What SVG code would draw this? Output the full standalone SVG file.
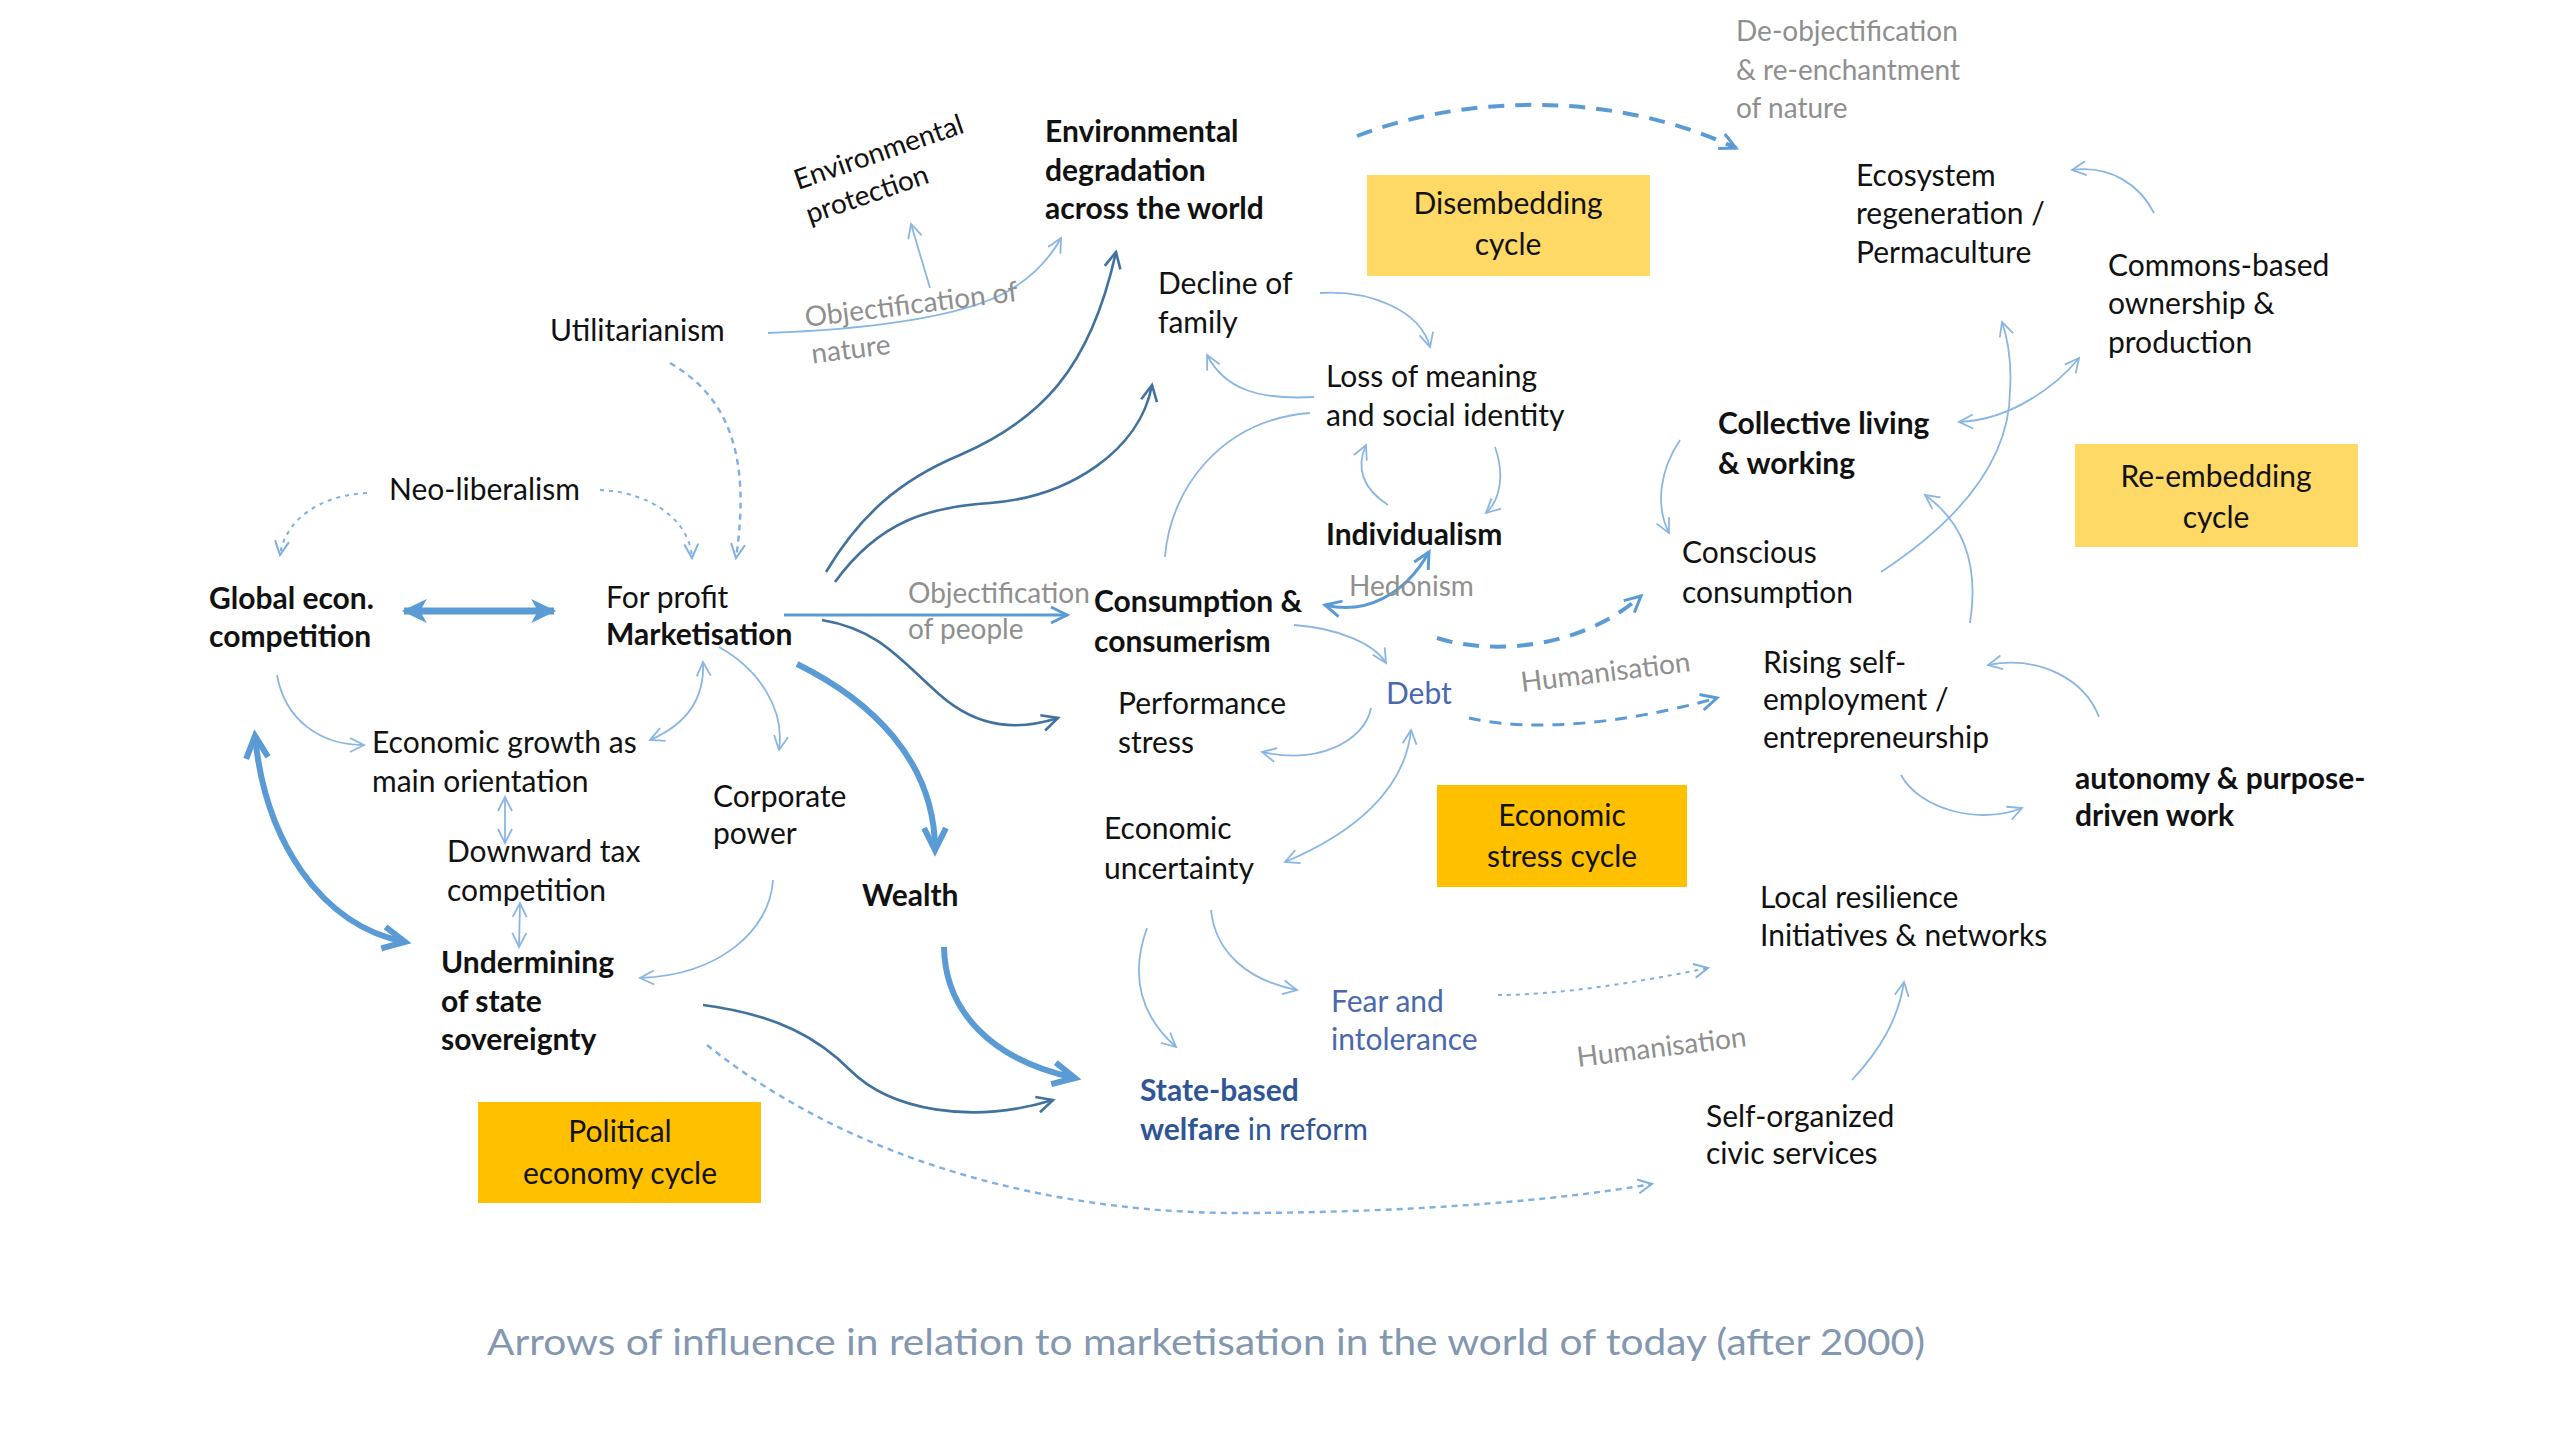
<svg xmlns="http://www.w3.org/2000/svg" width="2560" height="1440" viewBox="0 0 2560 1440">
<style>
text{font-family:Lato,"Open Sans","Liberation Sans",sans-serif;font-size:30px;fill:#111}
.b{font-weight:bold}
.g{fill:#8f8f8f;font-size:28px}
.bl{fill:#4a68ad}
.dk{fill:#2f5597}
.ct{text-anchor:middle}
.ttl{fill:#8497b0;font-size:37px}
.box1{fill:#ffd966}
.box2{fill:#ffc000}
path{fill:none}
.mf{fill:#5b9bd5}
.cl{stroke:#8ab6e3;stroke-width:1.8}
.cm{stroke:#5b9bd5;stroke-width:3}
.cd{stroke:#41729f;stroke-width:2.6}
.ck{stroke:#5b9bd5;stroke-width:6}
.cdash{stroke:#5b9bd5;stroke-width:4;stroke-dasharray:16 11}
.cdash2{stroke:#5b9bd5;stroke-width:3;stroke-dasharray:12 9}
.cdot{stroke:#7fb0e0;stroke-width:2;stroke-dasharray:4 5}
.cdot2{stroke:#7fb0e0;stroke-width:2.4;stroke-dasharray:6 5}
</style>
<defs>
<marker id="aL" markerUnits="userSpaceOnUse" viewBox="0 0 18 18" markerWidth="18" markerHeight="18" refX="16" refY="9" orient="auto-start-reverse" overflow="visible"><path d="M2,2 L16,9 L2,16" stroke="#8ab6e3" stroke-width="1.8" fill="none"/></marker>
<marker id="aDot" markerUnits="userSpaceOnUse" viewBox="0 0 18 18" markerWidth="18" markerHeight="18" refX="16" refY="9" orient="auto-start-reverse" overflow="visible"><path d="M2,2 L16,9 L2,16" stroke="#7fb0e0" stroke-width="2" fill="none"/></marker>
<marker id="aM" markerUnits="userSpaceOnUse" viewBox="0 0 22 22" markerWidth="22" markerHeight="22" refX="19" refY="11" orient="auto-start-reverse" overflow="visible"><path d="M3,3 L19,11 L3,19" stroke="#5b9bd5" stroke-width="3" fill="none"/></marker>
<marker id="aD" markerUnits="userSpaceOnUse" viewBox="0 0 22 22" markerWidth="22" markerHeight="22" refX="19" refY="11" orient="auto-start-reverse" overflow="visible"><path d="M3,3 L19,11 L3,19" stroke="#41729f" stroke-width="2.6" fill="none"/></marker>
<marker id="aT" markerUnits="userSpaceOnUse" viewBox="0 0 30 30" markerWidth="30" markerHeight="30" refX="26" refY="15" orient="auto-start-reverse" overflow="visible"><path d="M4,4 L26,15 L4,26" stroke="#5b9bd5" stroke-width="6" fill="none" stroke-linejoin="miter"/></marker>
<marker id="aF" markerUnits="userSpaceOnUse" viewBox="0 0 24 24" markerWidth="26" markerHeight="26" refX="21" refY="12" orient="auto-start-reverse" overflow="visible"><path class="mf" d="M0,1 L23,12 L0,23 L6,12 z"/></marker>
</defs>

<g id="connectors">
<path class="cdash" d="M1357,136 C1450,100 1600,85 1736,148" marker-end="url(#aM)"/>
<path class="cdot2" d="M670,363 C725,395 752,450 736,558" marker-end="url(#aDot)"/>
<path class="cdot" d="M367,493 C320,495 285,520 280,555" marker-end="url(#aDot)"/>
<path class="cdot" d="M600,490 C650,492 690,520 692,558" marker-end="url(#aDot)"/>
<path class="cl" d="M768,333 C850,330 960,320 1010,290 C1035,275 1050,258 1061,238" marker-end="url(#aL)"/>
<path class="cl" d="M930,288 L911,224" marker-end="url(#aL)"/>
<path stroke="#5b9bd5" stroke-width="7" d="M404,611 L554,611" marker-start="url(#aF)" marker-end="url(#aF)"/>
<path class="cm" d="M784,615 L1067,615" marker-end="url(#aM)"/>
<path class="cd" d="M826,572 C860,515 900,480 960,455 C1040,420 1090,370 1116,252" marker-end="url(#aD)"/>
<path class="cd" d="M835,582 C880,520 930,507 990,503 C1070,497 1140,450 1152,385" marker-end="url(#aD)"/>
<path class="cd" d="M822,620 C880,630 900,660 940,695 C980,730 1020,730 1058,718" marker-end="url(#aD)"/>
<path class="ck" stroke-width="5" d="M797,664 C870,700 935,760 935,850" marker-end="url(#aT)"/>
<path class="cl" d="M719,647 C760,670 785,710 779,750" marker-end="url(#aL)"/>
<path class="cl" d="M650,740 C685,725 705,700 703,662" marker-start="url(#aL)" marker-end="url(#aL)"/>
<path class="cl" d="M277,675 C285,720 320,745 364,745" marker-end="url(#aL)"/>
<path class="cl" d="M505,797 L505,843" marker-start="url(#aL)" marker-end="url(#aL)"/>
<path class="cl" d="M520,903 L519,947" marker-start="url(#aL)" marker-end="url(#aL)"/>
<path class="ck" stroke-width="5" d="M255,736 C265,840 320,925 405,942" marker-start="url(#aT)" marker-end="url(#aT)"/>
<path class="cl" d="M773,880 C770,930 720,975 640,978" marker-end="url(#aL)"/>
<path class="cd" d="M703,1005 C780,1015 820,1040 850,1070 C890,1110 970,1125 1053,1100" marker-end="url(#aD)"/>
<path class="ck" stroke-width="5" d="M944,947 C945,1010 990,1060 1075,1078" marker-end="url(#aT)"/>
<path class="cdot2" d="M707,1045 C850,1160 1050,1215 1250,1213 C1420,1212 1560,1200 1652,1184" marker-end="url(#aDot)"/>
<path class="cl" d="M1147,928 C1130,975 1140,1015 1176,1047" marker-end="url(#aL)"/>
<path class="cl" d="M1211,910 C1215,950 1245,980 1297,990" marker-end="url(#aL)"/>
<path class="cdot" d="M1498,995 C1560,995 1640,982 1708,968" marker-end="url(#aDot)"/>
<path class="cl" d="M1852,1080 C1880,1050 1898,1020 1904,982" marker-end="url(#aL)"/>
<path class="cl" d="M1294,625 C1340,628 1375,645 1386,663" marker-end="url(#aL)"/>
<path class="cl" d="M1371,708 C1365,740 1320,765 1262,752" marker-end="url(#aL)"/>
<path class="cl" d="M1285,862 C1354,833 1405,790 1411,730" marker-start="url(#aL)" marker-end="url(#aL)"/>
<path class="cm" stroke-width="2.6" d="M1325,605 C1365,615 1405,595 1429,552" marker-start="url(#aM)" marker-end="url(#aM)"/>
<path class="cl" d="M1165,557 C1170,490 1220,420 1310,413"/>
<path class="cl" d="M1314,397 C1260,400 1225,390 1207,355" marker-end="url(#aL)"/>
<path class="cl" d="M1320,293 C1370,290 1420,310 1430,347" marker-end="url(#aL)"/>
<path class="cl" d="M1388,505 C1365,490 1355,470 1366,445" marker-end="url(#aL)"/>
<path class="cl" d="M1495,447 C1505,475 1500,500 1486,513" marker-end="url(#aL)"/>
<path class="cdash" d="M1437,638 C1490,655 1580,650 1641,596" marker-end="url(#aM)"/>
<path class="cdash2" d="M1469,718 C1530,732 1620,725 1717,698" marker-end="url(#aM)"/>
<path class="cl" d="M2154,213 C2140,185 2110,165 2072,170" marker-end="url(#aL)"/>
<path class="cl" d="M1959,422 C2013,420 2059,383 2079,358" marker-start="url(#aL)" marker-end="url(#aL)"/>
<path class="cl" d="M1881,572 C1960,520 2010,460 2010,390 C2012,360 2008,340 2002,322" marker-end="url(#aL)"/>
<path class="cl" d="M1970,623 C1980,560 1960,520 1925,495" marker-end="url(#aL)"/>
<path class="cl" d="M1680,440 C1660,470 1655,505 1669,533" marker-end="url(#aL)"/>
<path class="cl" d="M2099,717 C2085,680 2040,655 1988,665" marker-end="url(#aL)"/>
<path class="cl" d="M1901,775 C1920,810 1980,825 2022,808" marker-end="url(#aL)"/>
</g>

<g id="n-deobj"><text class="g" x="1736" y="41">De-objectification</text><text class="g" x="1736" y="80">&amp; re-enchantment</text><text class="g" x="1736" y="118">of nature</text></g>
<g id="n-envprot" transform="translate(798,190) rotate(-19)"><text style="font-size:28px" x="0" y="0">Environmental</text><text style="font-size:28px" x="0" y="36">protection</text></g>
<g id="n-envdeg"><text class="b" x="1045" y="142">Environmental</text><text class="b" x="1045" y="181">degradation</text><text class="b" x="1045" y="219">across the world</text></g>
<g id="n-disembed"><rect class="box1" x="1367" y="175" width="283" height="101"/><text class="ct" x="1508" y="214">Disembedding</text><text class="ct" x="1508" y="255">cycle</text></g>
<g id="n-ecosystem"><text x="1856" y="186">Ecosystem</text><text x="1856" y="224">regeneration /</text><text x="1856" y="263">Permaculture</text></g>
<g id="n-decline"><text x="1158" y="294">Decline of</text><text x="1158" y="333">family</text></g>
<g id="n-util"><text x="550" y="341">Utilitarianism</text></g>
<g id="n-objnature" transform="translate(806,327) rotate(-7)"><text class="g" x="0" y="0">Objectification of</text><text class="g" x="2" y="37">nature</text></g>
<g id="n-neolib"><text x="389" y="500">Neo-liberalism</text></g>
<g id="n-global"><text class="b" x="209" y="609">Global econ.</text><text class="b" x="209" y="647">competition</text></g>
<g id="n-market"><text x="606" y="608">For profit</text><text class="b" x="606" y="645">Marketisation</text></g>
<g id="n-objpeople"><text class="g" x="908" y="603">Objectification</text><text class="g" x="908" y="639">of people</text></g>
<g id="n-consumption"><text class="b" x="1094" y="612">Consumption &amp;</text><text class="b" x="1094" y="652">consumerism</text></g>
<g id="n-loss"><text x="1326" y="387">Loss of meaning</text><text x="1326" y="426">and social identity</text></g>
<g id="n-individualism"><text class="b" x="1326" y="545">Individualism</text></g>
<g id="n-hedonism"><text class="g" x="1349" y="596">Hedonism</text></g>
<g id="n-collective"><text class="b" x="1718" y="434">Collective living</text><text class="b" x="1718" y="474">&amp; working</text></g>
<g id="n-commons"><text x="2108" y="276">Commons-based</text><text x="2108" y="314">ownership &amp;</text><text x="2108" y="353">production</text></g>
<g id="n-reembed"><rect class="box1" x="2075" y="444" width="283" height="103"/><text class="ct" x="2216" y="487">Re-embedding</text><text class="ct" x="2216" y="528">cycle</text></g>
<g id="n-conscious"><text x="1682" y="563">Conscious</text><text x="1682" y="603">consumption</text></g>
<g id="n-rising"><text x="1763" y="673">Rising self-</text><text x="1763" y="710">employment /</text><text x="1763" y="748">entrepreneurship</text></g>
<g id="n-human1" transform="translate(1522,692) rotate(-7)"><text class="g" x="0" y="0">Humanisation</text></g>
<g id="n-debt"><text class="bl" x="1386" y="704">Debt</text></g>
<g id="n-performance"><text x="1118" y="714">Performance</text><text x="1118" y="753">stress</text></g>
<g id="n-growth"><text x="372" y="753">Economic growth as</text><text x="372" y="792">main orientation</text></g>
<g id="n-corporate"><text x="713" y="807">Corporate</text><text x="713" y="844">power</text></g>
<g id="n-downward"><text x="447" y="862">Downward tax</text><text x="447" y="901">competition</text></g>
<g id="n-wealth"><text class="b" x="862" y="906">Wealth</text></g>
<g id="n-uncertainty"><text x="1104" y="839">Economic</text><text x="1104" y="879">uncertainty</text></g>
<g id="n-econstress"><rect class="box2" x="1437" y="785" width="250" height="102"/><text class="ct" x="1562" y="826">Economic</text><text class="ct" x="1562" y="867">stress cycle</text></g>
<g id="n-autonomy"><text class="b" x="2075" y="789">autonomy &amp; purpose-</text><text class="b" x="2075" y="826">driven work</text></g>
<g id="n-local"><text x="1760" y="908">Local resilience</text><text x="1760" y="946">Initiatives &amp; networks</text></g>
<g id="n-undermining"><text class="b" x="441" y="973">Undermining</text><text class="b" x="441" y="1012">of state</text><text class="b" x="441" y="1050">sovereignty</text></g>
<g id="n-fear"><text class="bl" x="1331" y="1012">Fear and</text><text class="bl" x="1331" y="1050">intolerance</text></g>
<g id="n-human2" transform="translate(1578,1067) rotate(-7)"><text class="g" x="0" y="0">Humanisation</text></g>
<g id="n-welfare"><text class="dk b" x="1140" y="1101">State-based</text><text class="dk" x="1140" y="1140"><tspan font-weight="bold">welfare</tspan> in reform</text></g>
<g id="n-political"><rect class="box2" x="478" y="1102" width="283" height="101"/><text class="ct" x="620" y="1142">Political</text><text class="ct" x="620" y="1184">economy cycle</text></g>
<g id="n-selforg"><text x="1706" y="1127">Self-organized</text><text x="1706" y="1164">civic services</text></g>
<g id="title"><text class="ttl" x="487" y="1355" textLength="1438" lengthAdjust="spacingAndGlyphs">Arrows of influence in relation to marketisation in the world of today (after 2000)</text></g>
</svg>
